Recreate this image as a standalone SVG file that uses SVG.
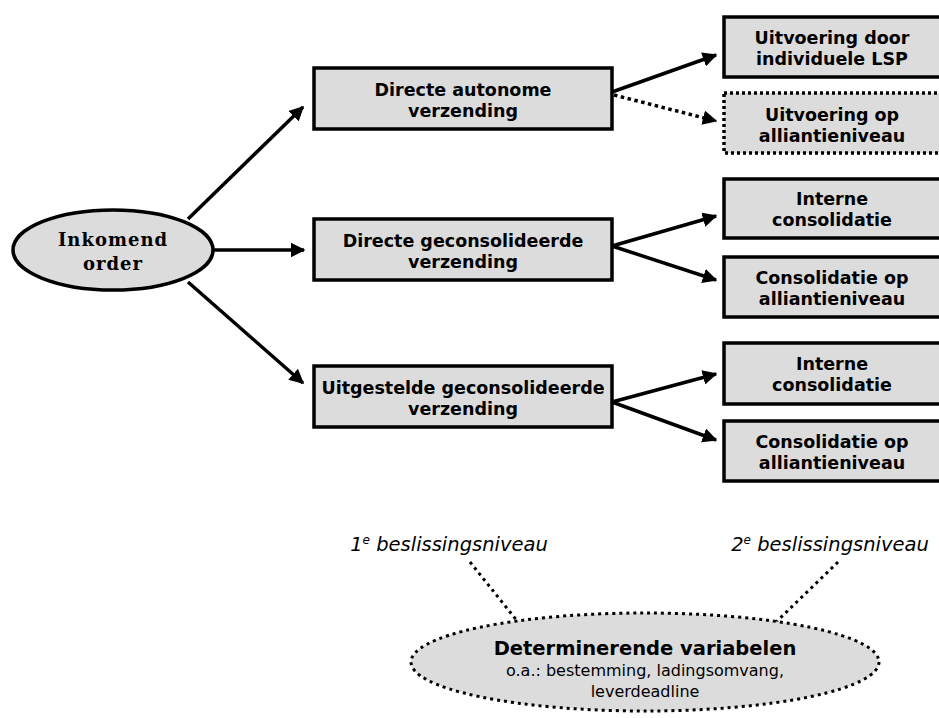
<svg xmlns="http://www.w3.org/2000/svg" width="939" height="718" viewBox="0 0 939 718">
<defs>
<style>
.box{fill:#dcdcdc;stroke:#000;stroke-width:3.5}
.dbox{fill:#dcdcdc;stroke:#000;stroke-width:3.5;stroke-dasharray:3 3}
.t{font-family:"DejaVu Sans",Verdana,sans-serif;font-weight:bold;font-size:17.5px;text-anchor:middle;fill:#000}
.ts{font-family:"DejaVu Serif",Georgia,serif;font-weight:bold;font-size:18px;text-anchor:middle;letter-spacing:1px;fill:#000}
.it{font-family:"DejaVu Sans",Verdana,sans-serif;font-style:italic;font-size:19.5px;text-anchor:middle;fill:#000}
.n{font-family:"DejaVu Sans",Verdana,sans-serif;font-size:16px;text-anchor:middle;fill:#000}
.c{fill:none;stroke:#000;stroke-width:3.5}
.cd{fill:none;stroke:#000;stroke-width:3.5;stroke-dasharray:3.5 3.5}
.dl{fill:none;stroke:#000;stroke-width:3;stroke-dasharray:3 4}
</style>
<marker id="ah" viewBox="0 0 10 10" refX="9" refY="5" markerWidth="4.2" markerHeight="4.2" orient="auto" markerUnits="strokeWidth">
<path d="M0,0 L10,5 L0,10 z" fill="#000"/>
</marker>
</defs>
<g id="connectors">
<line class="c" x1="188" y1="219" x2="303" y2="107" marker-end="url(#ah)"/>
<line class="c" x1="213" y1="250" x2="304" y2="250" marker-end="url(#ah)"/>
<line class="c" x1="188" y1="282" x2="303" y2="383" marker-end="url(#ah)"/>
<line class="c" x1="612" y1="92" x2="716" y2="55" marker-end="url(#ah)"/>
<line class="cd" x1="614" y1="95" x2="716" y2="121" marker-end="url(#ah)"/>
<line class="c" x1="612" y1="246" x2="716" y2="216" marker-end="url(#ah)"/>
<line class="c" x1="612" y1="246" x2="716" y2="280" marker-end="url(#ah)"/>
<line class="c" x1="612" y1="402" x2="716" y2="374" marker-end="url(#ah)"/>
<line class="c" x1="612" y1="402" x2="716" y2="440" marker-end="url(#ah)"/>
<line class="dl" x1="470" y1="562" x2="518" y2="622"/>
<line class="dl" x1="838" y1="562" x2="772" y2="626"/>
</g>
<g id="inkomend">
<ellipse cx="113" cy="250" rx="100" ry="40" fill="#dcdcdc" stroke="#000" stroke-width="3.5"/>
<text class="ts" x="113" y="246">Inkomend</text>
<text class="ts" x="113" y="270">order</text>
</g>
<g id="directe-autonome">
<rect class="box" x="314" y="68" width="298" height="61"/>
<text class="t" x="463" y="96">Directe autonome</text>
<text class="t" x="463" y="117">verzending</text>
</g>
<g id="directe-geconsolideerde">
<rect class="box" x="314" y="219" width="298" height="61"/>
<text class="t" x="463" y="247">Directe geconsolideerde</text>
<text class="t" x="463" y="268">verzending</text>
</g>
<g id="uitgestelde">
<rect class="box" x="314" y="366" width="298" height="61"/>
<text class="t" x="463" y="394">Uitgestelde geconsolideerde</text>
<text class="t" x="463" y="415">verzending</text>
</g>
<g id="uitvoering-lsp">
<rect class="box" x="724" y="17" width="230" height="60"/>
<text class="t" x="832" y="44">Uitvoering door</text>
<text class="t" x="832" y="65">individuele LSP</text>
</g>
<g id="uitvoering-alliantie">
<rect class="dbox" x="724" y="93" width="230" height="60"/>
<text class="t" x="832" y="121">Uitvoering op</text>
<text class="t" x="832" y="142">alliantieniveau</text>
</g>
<g id="interne-1">
<rect class="box" x="724" y="179" width="230" height="59"/>
<text class="t" x="832" y="205">Interne</text>
<text class="t" x="832" y="226">consolidatie</text>
</g>
<g id="consolidatie-1">
<rect class="box" x="724" y="257" width="230" height="60"/>
<text class="t" x="832" y="284">Consolidatie op</text>
<text class="t" x="832" y="305">alliantieniveau</text>
</g>
<g id="interne-2">
<rect class="box" x="724" y="343" width="230" height="61"/>
<text class="t" x="832" y="370">Interne</text>
<text class="t" x="832" y="391">consolidatie</text>
</g>
<g id="consolidatie-2">
<rect class="box" x="724" y="421" width="230" height="60"/>
<text class="t" x="832" y="448">Consolidatie op</text>
<text class="t" x="832" y="469">alliantieniveau</text>
</g>
<g id="label-1">
<text class="it" x="449" y="551">1<tspan font-size="12" dy="-7">e</tspan><tspan dy="7"> beslissingsniveau</tspan></text>
</g>
<g id="label-2">
<text class="it" x="830" y="551">2<tspan font-size="12" dy="-7">e</tspan><tspan dy="7"> beslissingsniveau</tspan></text>
</g>
<g id="determinerende">
<ellipse cx="645" cy="662" rx="234" ry="49" fill="#dcdcdc" stroke="#000" stroke-width="3" stroke-dasharray="3 4"/>
<text class="t" x="645" y="655" style="font-size:19.5px">Determinerende variabelen</text>
<text class="n" x="645" y="676">o.a.: bestemming, ladingsomvang,</text>
<text class="n" x="645" y="697">leverdeadline</text>
</g>
</svg>
